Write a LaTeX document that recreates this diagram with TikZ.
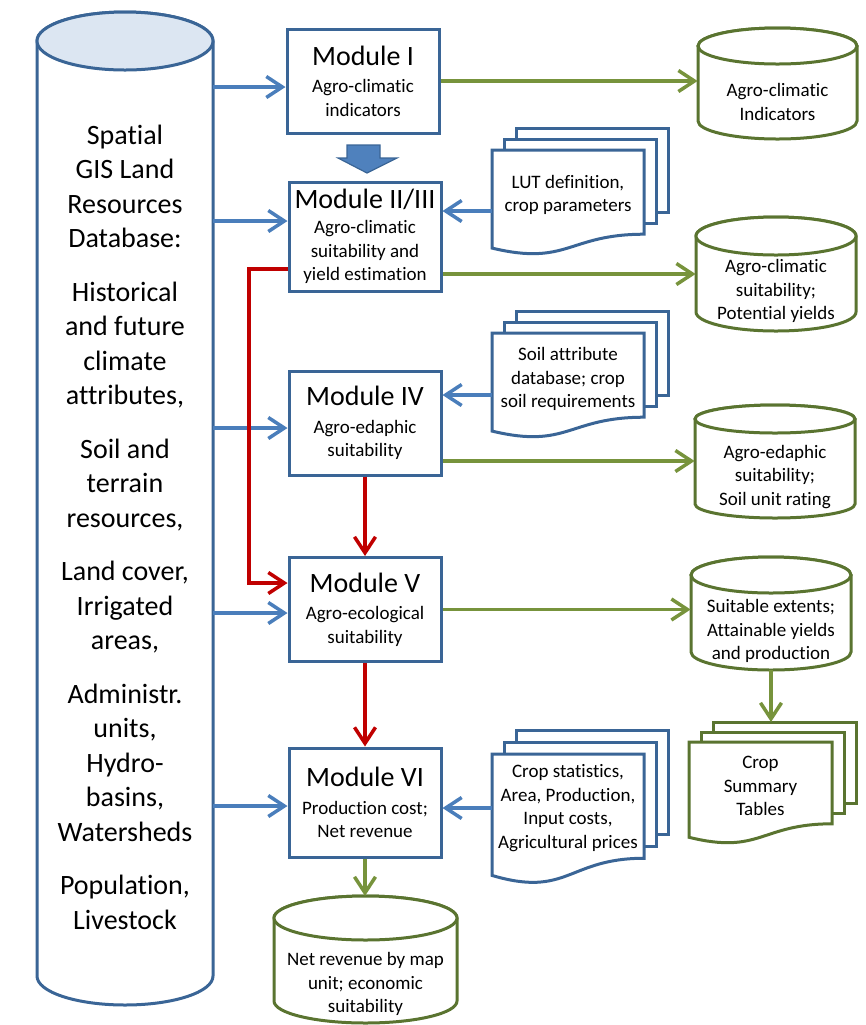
\documentclass[tikz,border=0pt]{standalone}
\usepackage{fontspec}
\setmainfont{Carlito}[Ligatures=NoCommon]
\usepackage{tikz}
\usetikzlibrary{arrows.meta,positioning,calc}
\definecolor{fbblue}{HTML}{3A6596}
\definecolor{fbarrow}{HTML}{4A7EBB}
\definecolor{fbtop}{HTML}{DCE6F2}
\definecolor{fbblock}{HTML}{4F81BD}
\definecolor{fbgreen}{HTML}{77933C}
\definecolor{fbolive}{HTML}{5A7430}
\definecolor{fbred}{HTML}{C00000}
\newcommand{\modtitle}[1]{{\fontsize{14}{16}\selectfont #1}}
% cylinder: style, x1, y1, x2, y2, ry (pixel units)
\newcommand{\dbcyl}[6]{%
  \draw[#1,fill=white] (#2,#3+#6) -- (#2,#5-#6)
    arc[start angle=180,end angle=360,x radius={(#4-#2)*0.25pt},y radius={#6*0.5pt}]
    -- (#4,#3+#6)
    arc[start angle=0,end angle=180,x radius={(#4-#2)*0.25pt},y radius={#6*0.5pt}] -- cycle;
  \draw[#1] ({(#2+#4)/2},#3+#6) ellipse[x radius={(#4-#2)*0.25pt},y radius={#6*0.5pt}];
}
% stack of documents: style, x1, y1, w, h, dx, dy
\newcommand{\docstack}[7]{%
  \foreach \k in {2,1}
    \draw[#1,fill=white] (#2+\k*#6,#3-\k*#7) rectangle (#2+#4+\k*#6,#3+0.802*#5-\k*#7);
  \draw[#1,fill=white] (#2,#3) -- (#2+#4,#3) -- (#2+#4,#3+0.802*#5)
    .. controls (#2+0.5*#4,#3+0.802*#5) and (#2+0.5*#4,#3+1.1075*#5) .. (#2,#3+0.934*#5) -- cycle;
}

\begin{document}
\begin{tikzpicture}[
  x=0.5pt,y=-0.5pt,
  modbox/.style={draw=fbblue,line width=1.5pt,fill=white,minimum width=76pt,minimum height=52pt,
    inner sep=0pt,align=center,font=\fontsize{9.5}{11.75}\selectfont},
  dbtext/.style={inner sep=0pt,align=center,minimum width=88pt,font=\fontsize{14}{17.25}\selectfont},
  smalltext/.style={inner sep=0pt,align=center,font=\fontsize{9.5}{11.75}\selectfont},
  inarr/.style={draw=fbarrow,line width=1.75pt,-{Straight Barb[length=8pt,width=10.5pt]}},
  outarr/.style={draw=fbgreen,line width=1.75pt,-{Straight Barb[length=8pt,width=10.5pt]}},
  redarr/.style={draw=fbred,line width=1.75pt,-{Straight Barb[length=8pt,width=10.5pt]}},
  bluecyl/.style={draw=fbblue,line width=1.5pt,fill=fbtop},
  greencyl/.style={draw=fbolive,line width=1.5pt,fill=white},
  bluedoc/.style={draw=fbblue,line width=1.5pt},
  greendoc/.style={draw=fbolive,line width=1.5pt}
]
\useasboundingbox (0,0) rectangle (866,1025);

% database and result stores
\dbcyl{bluecyl}{37}{12}{213}{1005}{29}
\dbcyl{greencyl}{698}{28}{857}{139}{18}
\dbcyl{greencyl}{696}{217}{856}{331}{19}
\dbcyl{greencyl}{695}{405}{855}{518}{14}
\dbcyl{greencyl}{691}{557}{851}{670}{18}
\dbcyl{greencyl}{274}{896}{457}{1023}{22}

% input and output documents
\docstack{bluedoc}{492}{150}{152}{105}{12}{11}
\docstack{bluedoc}{492}{333}{152}{105}{12}{11}
\docstack{bluedoc}{492}{754}{152}{130}{12}{12}
\docstack{greendoc}{689}{742}{143}{102}{12}{10}

\node[dbtext] (db) at (125,527) {Spatial\\GIS Land\\Resources\\Database:\\[9.5pt]
  Historical\\and future\\climate\\attributes,\\[9.5pt]
  Soil and\\terrain\\resources,\\[9.5pt]
  Land cover,\\Irrigated\\areas,\\[9.5pt]
  Administr.\\units,\\Hydro-\\basins,\\Watersheds\\[9.5pt]
  Population,\\Livestock};

\node[modbox] (mod1) at (363,81) {\modtitle{Module I}\\[2pt]Agro-climatic\\indicators};
\node[modbox,minimum height=54.5pt] (mod2) at (365,236.5) {\modtitle{Module II/III}\\[1pt]Agro-climatic\\suitability and\\yield estimation};
\node[modbox] (mod4) at (365,423) {\modtitle{Module IV}\\[2pt]Agro-edaphic\\suitability};
\node[modbox] (mod5) at (365,609.5) {\modtitle{Module V}\\[2pt]Agro-ecological\\suitability};
\node[modbox,minimum height=54.5pt] (mod6) at (365,802.5) {\modtitle{Module VI}\\[2pt]Production cost;\\Net revenue};

\node[smalltext,minimum width=79.5pt] (acind) at (777.5,102) {Agro-climatic\\Indicators};
\node[smalltext,minimum width=80pt] (acsuit) at (776,291) {Agro-climatic\\suitability;\\Potential yields};
\node[smalltext,minimum width=80pt] (aesuit) at (775,477) {Agro-edaphic\\suitability;\\Soil unit rating};
\node[smalltext,minimum width=80pt] (sufext) at (771,631) {Suitable extents;\\Attainable yields\\and production};
\node[smalltext,minimum width=91.5pt] (nrev) at (365.5,984) {Net revenue by map\\unit; economic\\suitability};
\coordinate (sufext-bot) at (771,670);
\coordinate (nrev-top) at (365.5,896);

\node[smalltext,minimum width=76pt] (lut) at (568,195) {LUT definition,\\crop parameters};
\node[smalltext,minimum width=76pt] (soil) at (568,379) {Soil attribute\\database; crop\\soil requirements};
\node[smalltext,minimum width=76pt] (cstat) at (568,808) {Crop statistics,\\Area, Production,\\Input costs,\\Agricultural prices};
\node[smalltext,minimum width=71.5pt] (tables) at (760.5,786) {Crop\\Summary\\Tables};
\coordinate (tables-top) at (784,722);

% block arrow Module I -> Module II/III
\filldraw[fill=fbblock,draw=fbblue,line width=0.6pt] (347,145) -- (380,145) -- (380,158) -- (397,158)
  -- (367,173) -- (338,158) -- (347,158) -- cycle;

% database inputs
\coordinate (in1) at ([yshift=-3pt]mod1.west);
\coordinate (in2) at ([yshift=7.75pt]mod2.west);
\coordinate (in4) at ([yshift=-2.5pt]mod4.west);
\coordinate (in5) at ([yshift=-1.75pt]mod5.west);
\coordinate (in6) at ([yshift=-1.75pt]mod6.west);
\draw[inarr] (db.east |- in1) -- (in1);
\draw[inarr] (db.east |- in2) -- (in2);
\draw[inarr] (db.east |- in4) -- (in4);
\draw[inarr] (db.east |- in5) -- (in5);
\draw[inarr] (db.east |- in6) -- (in6);

% document inputs
\coordinate (lutin) at ([yshift=-8pt]lut.west);
\coordinate (soilin) at ([yshift=-8pt]soil.west);
\draw[inarr] (lutin) -- (lutin -| mod2.east);
\draw[inarr] (soilin) -- (soilin -| mod4.east);
\draw[inarr] (cstat.west) -- (cstat.west -| mod6.east);

% outputs
\coordinate (out2) at ([yshift=-18.75pt]mod2.east);
\coordinate (out4) at ([yshift=-19pt]mod4.east);
\draw[outarr] (mod1.east) -- (mod1.east -| acind.west);
\draw[outarr] (out2) -- (out2 -| acsuit.west);
\draw[outarr] (out4) -- (out4 -| aesuit.west);
\draw[outarr] (mod5.east) -- (mod5.east -| sufext.west);
\draw[outarr] (sufext-bot) -- (sufext-bot |- tables-top);
\draw[outarr] (mod6.south) -- (mod6.south |- nrev-top);

% module chain
\coordinate (redout) at ([yshift=-16.25pt]mod2.west);
\coordinate (redin) at ([yshift=13.25pt]mod5.west);
\coordinate (redjog) at (249,420);
\draw[redarr] (redout) -| (redjog) |- (redin);
\draw[redarr] (mod4.south) -- (mod5.north);
\draw[redarr] (mod5.south) -- (mod6.north);
\end{tikzpicture}
\end{document}
